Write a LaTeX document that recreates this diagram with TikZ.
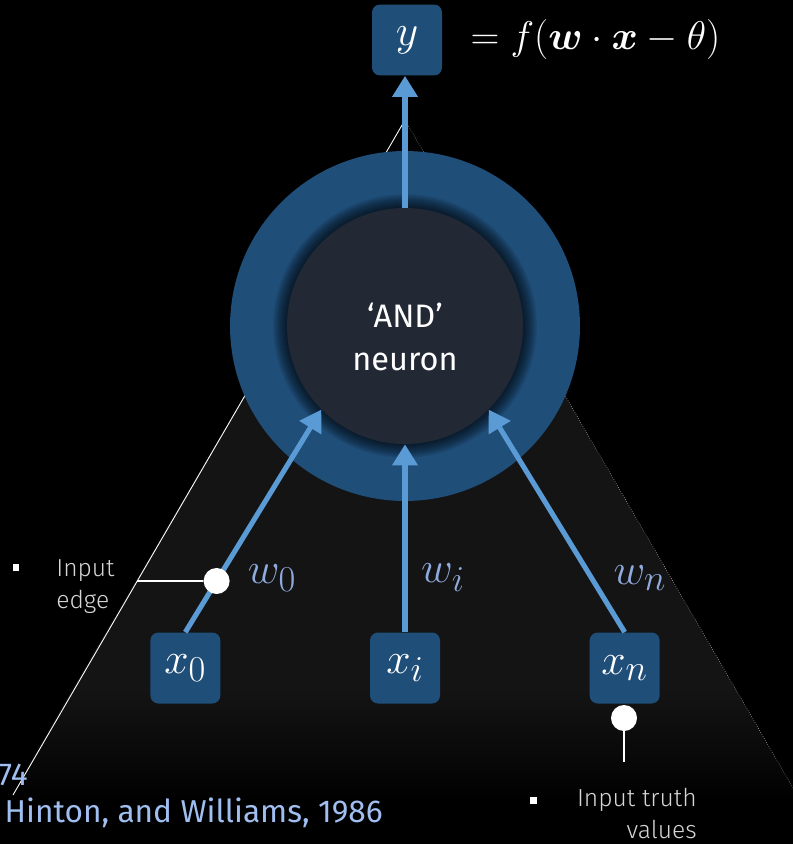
\documentclass[tikz,border=0pt]{standalone}
\usepackage{amsmath,bm}
\usepackage{fontspec}
\setmainfont{Fira Sans}
\newfontfamily\lightfont{Fira Sans Light}
\usepackage{tikz}
\usetikzlibrary{arrows.meta,positioning}
\definecolor{boxblue}{HTML}{1F4E79}
\definecolor{edgeblue}{HTML}{5B9BD5}
\definecolor{core}{HTML}{222834}
\definecolor{wlabel}{HTML}{8FAADC}
\definecolor{citeblue}{HTML}{A0BEF0}
\definecolor{tri}{HTML}{141414}
\definecolor{notegray}{HTML}{D6D6D6}

\begin{document}
\begin{tikzpicture}[x=0.02cm,y=-0.02cm,
  varbox/.style={fill=boxblue,rounded corners=0.16cm,minimum width=1.4cm,minimum height=1.42cm,inner sep=0,text=white,font=\fontsize{24.88}{28}\selectfont},
  wire/.style={edgeblue,line width=2.9pt,-{Triangle[width=14pt,length=12pt]}},
  wlbl/.style={text=wlabel,font=\fontsize{24.88}{28}\selectfont},
  dot/.style={circle,fill=white,minimum size=0.52cm,inner sep=0},
  note/.style={text=notegray,font=\lightfont\fontsize{14}{18}\selectfont,inner sep=0},
  bulletsq/.style={fill=white,minimum size=0.14cm,inner sep=0},
  cite/.style={text=citeblue,font=\fontsize{18}{22}\selectfont,inner sep=0}]
\fill[black] (0,0) rectangle (793,844);
\useasboundingbox (0,0) rectangle (793,844);
\coordinate (apex) at (405,120);
\coordinate (lfoot) at (13,795);
\coordinate (rfoot) at (800,800);
\begin{scope}
\clip (apex) -- (8,800) -- (rfoot) -- cycle;
\shade[top color=black,bottom color=tri] (0,120) rectangle (800,330);
\fill[tri] (0,330) rectangle (800,690);
\shade[top color=tri,bottom color=black] (0,690) rectangle (800,805);
\end{scope}
\draw[white,line width=.5pt] (apex) -- (lfoot);
\draw[gray!35,densely dotted,line width=.3pt] (apex) -- (rfoot);

\node[circle,fill=boxblue,minimum size=7cm,inner sep=0] (ring) at (405,326) {};
\foreach \r in {1,...,14}{\fill[black,opacity=.06] (ring.center) circle[radius=118+\r];}
\node[circle,fill=core,minimum size=4.72cm,inner sep=0] (neuron) at (ring) {};
\node[text=white,align=center,font=\fontsize{18.5}{24}\selectfont] (andtxt) at (405,337) {‘AND’\\neuron};

\node[varbox] (yout) at (407,40) {$y$};
\node[right=0.56cm of yout,inner sep=0,text=white,font=\fontsize{24.88}{28}\selectfont] (eqn) {\scalebox{.915}{$=f(\bm{w}\cdot\bm{x}-\theta)$}};
\node[varbox] (xi) at (405,668) {$x_i$};
\node[varbox,left=2.98cm of xi] (x0) {$x_0$};
\node[varbox,right=2.98cm of xi] (xn) {$x_n$};

\draw[wire] (neuron.north) -- (neuron.north |- yout.south);
\draw[wire] (x0.north) -- coordinate[pos=.23] (edgept) (neuron.225);
\draw[wire] (xi.north) -- (neuron.south);
\draw[wire] (xn.north) -- (neuron.315);

\node[wlbl] (w0) at (272,578) {$w_0$};
\node[wlbl] (wi) at (443,578) {$w_i$};
\node[wlbl] (wn) at (640,578) {$w_n$};

\node[dot] (edgedot) at (edgept) {};
\coordinate (edgefoot) at (137,581);
\draw[white,line width=1.1pt] (edgedot) -- (edgefoot);
\node[dot] (truthdot) at (624,718) {};
\coordinate (truthfoot) at (624,762);
\draw[white,line width=1.1pt] (truthdot) -- (truthfoot);

\node[bulletsq] (b1) at (16,567) {};
\node[note,anchor=base west,align=left] (edgenote) at (56,608) {Input\\edge};
\node[bulletsq] (b2) at (533,800) {};
\node[note,anchor=base east,align=right] (truthnote) at (697,838) {Input truth\\values};

\node[cite,anchor=base east] (citeA) at (28,785) {74};
\node[cite,anchor=base east] (citeB) at (383,822) {Hinton, and Williams, 1986};
\end{tikzpicture}
\end{document}
